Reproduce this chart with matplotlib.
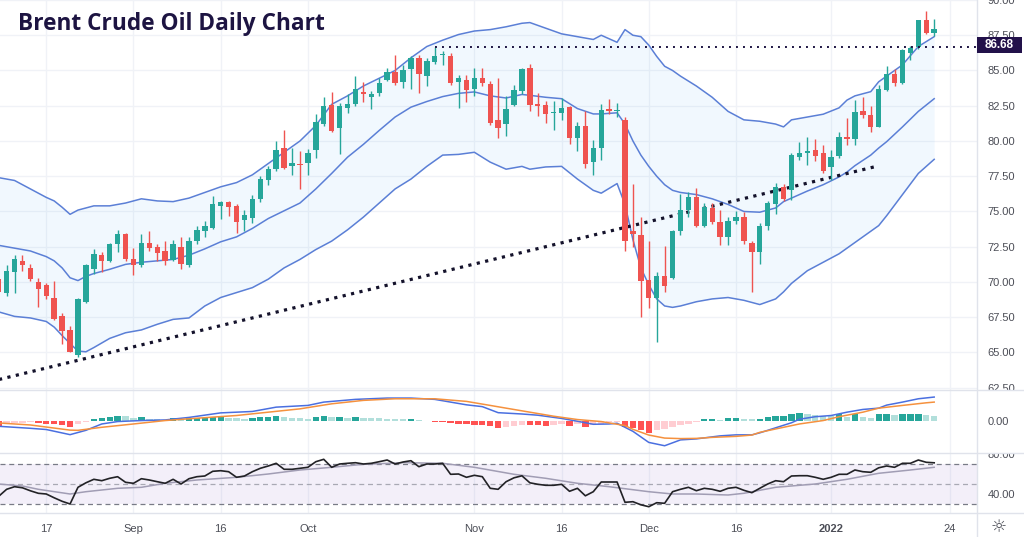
import numpy as np
import matplotlib
matplotlib.use('Agg')
import matplotlib.pyplot as plt
from matplotlib.transforms import Bbox, TransformedBbox
from matplotlib.lines import Line2D
from matplotlib.patches import Rectangle

# ---------------- data ----------------
opens = [70.2, 69.2, 70.7, 71.5, 71.0, 70.0, 69.8, 68.9, 67.6, 66.6,
         64.8, 68.6, 70.94, 71.88, 71.48, 72.7, 73.4, 71.64, 71.17, 72.8,
         72.47, 72.23, 71.57, 72.5, 71.24, 72.9, 73.6, 73.8, 75.4, 75.7,
         75.4, 74.39, 74.53, 75.87, 77.2, 78.0, 79.47, 78.23, 78.4, 78.46,
         79.36, 81.2, 82.58, 80.93, 82.35, 82.6, 83.5, 83.1, 83.4, 84.3,
         84.9, 84.18, 85.1, 85.9, 84.6, 85.6, 86.07, 86.0, 84.2, 84.35,
         83.7, 84.5, 84.04, 81.5, 81.2, 82.54, 83.57, 85.17, 82.63, 82.54,
         81.97, 82.0, 82.4, 80.18, 81.05, 78.51, 79.48, 82.28, 82.16, 81.52,
         73.64, 73.36, 70.15, 68.88, 70.46, 70.3, 73.64, 75.1, 76.0, 74.0,
         75.24, 74.23, 73.22, 74.3, 74.63, 72.74, 72.1, 73.99, 75.52, 76.75,
         76.54, 78.9, 79.13, 79.37, 79.13, 78.19, 78.94, 80.3, 80.12, 82.14,
         81.84, 81.0, 83.65, 84.78, 84.12, 86.24, 86.66, 88.55, 87.65]
highs = [70.5, 71.2, 71.9, 71.9, 71.3, 70.3, 69.9, 70.1, 67.8, 66.9,
         68.9, 71.3, 72.35, 72.1, 72.8, 73.7, 73.45, 72.4, 73.4, 73.64,
         72.7, 72.94, 73.0, 73.2, 73.2, 74.0, 74.35, 76.1, 75.76, 75.76,
         75.5, 75.1, 76.2, 77.5, 78.2, 80.0, 80.75, 79.5, 79.3, 79.4,
         81.92, 83.1, 83.47, 82.7, 83.3, 84.58, 84.2, 83.57, 84.46, 85.17,
         86.1, 85.4, 86.0, 86.1, 85.9, 86.7, 86.4, 86.23, 84.65, 84.7,
         85.17, 85.2, 84.23, 84.47, 83.17, 84.0, 85.2, 85.46, 83.4, 82.87,
         82.82, 83.05, 82.47, 81.36, 82.16, 80.04, 82.63, 83.0, 82.7, 81.69,
         76.98, 74.58, 72.88, 70.7, 72.58, 73.7, 76.27, 76.35, 76.7, 75.6,
         75.6, 75.1, 74.63, 75.05, 74.93, 72.93, 74.2, 75.76, 76.99, 76.94,
         79.13, 79.96, 80.26, 80.12, 79.7, 79.37, 80.66, 81.6, 82.9, 83.1,
         82.47, 83.96, 85.3, 85.13, 86.55, 86.71, 88.6, 89.25, 88.67]
lows = [69.0, 69.0, 69.2, 70.8, 70.1, 68.2, 68.8, 67.3, 65.6, 65.0,
        64.7, 68.5, 70.6, 70.7, 71.4, 72.1, 71.5, 70.47, 71.06, 72.2,
        71.5, 71.17, 71.5, 70.9, 71.05, 72.7, 73.17, 73.76, 74.5, 74.7,
        73.5, 73.6, 74.2, 75.7, 76.9, 77.9, 78.0, 77.6, 76.6, 77.6,
        78.8, 81.05, 80.65, 79.1, 82.0, 82.46, 82.77, 82.3, 83.17, 84.23,
        84.0, 83.76, 83.7, 83.4, 83.9, 85.45, 85.4, 84.0, 82.35, 82.8,
        83.17, 83.9, 81.17, 80.23, 80.35, 82.46, 83.34, 82.16, 81.76, 81.3,
        80.75, 81.52, 79.8, 79.3, 78.1, 77.6, 78.63, 81.88, 81.69, 72.2,
        72.46, 67.52, 68.18, 65.75, 69.28, 70.2, 73.3, 74.6, 73.92, 73.9,
        74.1, 72.6, 72.6, 74.1, 72.7, 69.28, 71.28, 73.7, 74.8, 75.76,
        75.84, 78.66, 78.3, 78.55, 77.72, 77.25, 78.78, 79.72, 79.72, 81.6,
        80.66, 81.0, 83.56, 83.89, 84.07, 85.72, 86.55, 87.6, 87.42]
closes = [69.3, 70.8, 71.6, 71.2, 70.2, 69.5, 69.0, 67.4, 66.5, 65.0,
          68.8, 71.17, 72.0, 71.48, 72.66, 73.4, 71.64, 71.24, 72.8, 72.4,
          72.04, 71.5, 72.7, 71.3, 72.9, 73.7, 74.0, 75.5, 75.64, 75.3,
          74.23, 74.74, 75.87, 77.3, 78.0, 79.36, 78.11, 78.46, 78.3, 79.17,
          81.36, 82.5, 80.74, 82.46, 82.6, 83.7, 83.3, 83.33, 84.1, 84.9,
          84.1, 85.05, 85.9, 84.75, 85.7, 86.0, 86.15, 84.1, 84.5, 83.6,
          84.5, 84.1, 81.29, 80.9, 82.3, 83.64, 85.1, 82.54, 82.5, 81.9,
          82.07, 82.35, 80.2, 81.05, 78.39, 79.48, 82.23, 82.16, 82.23, 72.88,
          73.4, 70.1, 68.88, 70.46, 69.75, 73.64, 75.1, 76.0, 74.0, 75.33,
          74.23, 73.22, 74.35, 74.63, 72.9, 72.1, 73.99, 75.57, 76.75, 75.88,
          79.0, 79.18, 79.32, 78.94, 77.84, 78.9, 80.26, 80.12, 82.07, 81.84,
          81.0, 83.72, 84.73, 84.12, 86.43, 86.62, 88.55, 87.65, 87.96]

# Bollinger bands (read at these candle indices)
bb_idx = [0, 2, 4, 6, 7, 8, 9, 10, 11, 12, 14, 16, 18, 20, 22, 24, 26, 28, 30, 32,
          34, 36, 38, 40, 42, 44, 46, 48, 50, 52, 54, 56, 58, 60, 62, 64, 66, 67, 69, 71,
          73, 75, 76, 78, 79, 80, 81, 82, 83, 84, 85, 86, 88, 90, 92, 94, 96, 98, 99, 100,
          102, 104, 106, 107, 108, 110, 111, 112, 114, 116, 118]
bb_upper = [77.4, 77.2, 76.6, 76.0, 75.75, 75.3, 74.8, 75.1, 75.25, 75.4, 75.4, 75.6, 75.9, 75.75, 75.7, 75.95, 76.35, 76.75, 77.05, 77.6,
            78.4, 79.2, 80.0, 81.1, 82.6, 83.2, 83.9, 84.45, 85.0, 85.9, 86.7, 87.15, 87.55, 87.8, 87.9, 88.1, 88.35, 88.4, 88.0, 87.6,
            87.4, 87.2, 87.5, 87.0, 87.9, 87.5, 87.4, 86.8, 86.0, 85.3, 85.0, 84.6, 83.9, 83.1, 82.1, 81.5, 81.4, 81.2, 81.0, 81.5,
            81.7, 81.9, 82.35, 82.9, 83.2, 83.5, 84.2, 84.6, 85.4, 86.7, 87.4]
bb_mid = [72.6, 72.4, 72.2, 71.8, 71.5, 71.0, 70.3, 70.1, 70.4, 70.6, 70.9, 71.25, 71.4, 71.5, 71.6, 71.9, 72.35, 72.85, 73.2, 73.8,
          74.5, 75.05, 75.6, 76.6, 77.7, 78.85, 79.76, 80.75, 81.7, 82.4, 82.8, 83.15, 83.38, 83.48, 83.2, 83.05, 83.3, 83.24, 83.1, 83.0,
          82.3, 81.92, 81.92, 82.0, 81.2, 80.0, 79.0, 78.2, 77.5, 76.9, 76.5, 76.35, 76.2, 75.9, 75.5, 75.0, 74.95, 75.25, 75.7, 75.95,
          76.45, 76.9, 77.45, 77.8, 78.25, 79.0, 79.5, 79.95, 81.0, 82.1, 83.0]
bb_lower = [67.88, 67.56, 67.45, 67.2, 66.8, 66.2, 65.64, 65.1, 65.05, 65.35, 66.0, 66.4, 66.6, 67.0, 67.35, 67.45, 68.3, 68.9, 69.25, 69.6,
            70.2, 71.0, 71.6, 72.3, 72.9, 73.7, 74.6, 75.6, 76.6, 77.3, 78.2, 79.0, 79.05, 79.2, 78.5, 78.0, 78.2, 78.0, 78.16, 78.2,
            77.3, 76.5, 76.3, 76.98, 75.5, 73.0, 71.0, 69.8, 68.8, 68.3, 68.2, 68.3, 68.6, 68.8, 68.9, 68.7, 68.4, 68.8, 69.3, 69.9,
            70.8, 71.4, 72.0, 72.4, 72.8, 73.6, 74.0, 74.7, 76.2, 77.7, 78.7]

trend_x = [0.0, 110.7]
trend_y = [63.08, 78.2]
level = 86.68
level_start = 55

# MACD histogram (one per candle)
macd_hist = [-0.5, -0.25, -0.2, -0.15, -0.1, -0.22, -0.25, -0.32, -0.38, -0.55,
             -0.3, -0.03, 0.22, 0.32, 0.4, 0.55, 0.48, 0.33, 0.4, 0.25,
             0.18, 0.12, 0.28, 0.2, 0.28, 0.32, 0.35, 0.38, 0.4, 0.33,
             0.3, 0.27, 0.32, 0.38, 0.43, 0.5, 0.42, 0.37, 0.32, 0.27,
             0.4, 0.5, 0.38, 0.42, 0.33, 0.4, 0.32, 0.3, 0.28, 0.26,
             0.22, 0.18, 0.2, 0.08, 0.04, -0.03, -0.08, -0.15, -0.25, -0.3,
             -0.33, -0.34, -0.5, -0.63, -0.55, -0.5, -0.33, -0.4, -0.42, -0.47,
             -0.33, -0.25, -0.47, -0.3, -0.53, -0.35, -0.25, -0.1, -0.05, -0.57,
             -0.67, -0.9, -1.13, -0.9, -0.73, -0.57, -0.4, -0.23, -0.08, 0.2,
             0.22, 0.1, 0.33, 0.35, 0.27, 0.2, 0.27, 0.43, 0.5, 0.52,
             0.7, 0.77, 0.72, 0.6, 0.53, 0.5, 0.67, 0.43, 0.67, 0.43,
             0.37, 0.67, 0.68, 0.6, 0.67, 0.68, 0.69, 0.6, 0.55]
macd_idx = [0, 4, 6, 9, 11, 13, 15, 18, 21, 24, 28, 32, 35, 39, 41, 45, 49, 52, 55, 57,
            59, 61, 63, 66, 68, 71, 73, 75, 77, 78, 80, 82, 84, 86, 88, 91, 93, 95, 96, 98,
            100, 101, 103, 105, 107, 109, 111, 112, 114, 116, 118]
macd_line = [-0.5, -0.7, -0.82, -1.33, -0.9, -0.27, -0.03, 0.07, 0.13, 0.38, 0.83, 0.97, 1.4, 1.57, 1.9, 2.17, 2.3, 2.3, 2.17, 1.9,
             1.63, 1.45, 0.85, 0.72, 0.6, 0.28, 0.0, -0.3, -0.27, -0.2, -1.0, -2.1, -2.43, -1.85, -1.75, -1.45, -1.35, -1.35, -1.15, -0.65,
             -0.15, 0.2, 0.45, 0.57, 0.9, 1.17, 1.3, 1.6, 1.9, 2.23, 2.4]
sig_idx = [0, 4, 9, 10, 13, 17, 21, 25, 30, 34, 38, 42, 46, 50, 55, 59, 62, 64, 67, 70,
           73, 76, 79, 80, 82, 84, 86, 88, 90, 93, 95, 96, 99, 101, 104, 106, 109, 111, 114, 117, 118]
sig_line = [-0.17, -0.37, -0.88, -0.9, -0.6, -0.27, 0.07, 0.3, 0.57, 0.9, 1.23, 1.73, 2.07, 2.23, 2.23, 1.97, 1.57, 1.3, 0.9, 0.5,
            0.17, -0.03, -0.43, -0.8, -1.37, -1.67, -1.72, -1.7, -1.6, -1.5, -1.37, -1.1, -0.6, -0.27, 0.07, 0.45, 0.9, 1.3, 1.57, 1.83, 1.9]

# RSI (one per candle) and its moving average
rsi = [38, 45, 47.6, 46.5, 43.5, 41, 40.3, 36.5, 33, 30.3,
       47, 51.5, 55, 53.6, 56, 57.6, 52, 51, 55.6, 54.3,
       52.6, 51, 55, 50.3, 55.6, 57.6, 58.3, 63, 63.6, 62.6,
       57, 58.3, 62.6, 66, 68.3, 71, 65, 65, 66, 67,
       72.6, 75, 67, 70.3, 71, 71.6, 70.3, 71, 72.6, 74.3,
       70.3, 72.3, 73.6, 67.6, 70.3, 70.3, 71, 60, 60.3, 57,
       59, 57.6, 46, 45, 52.6, 56.5, 58.5, 51.5, 50, 49,
       49, 50, 43, 46, 38.5, 42.6, 52.3, 52.3, 52.3, 32,
       32.6, 29.5, 27.6, 31.6, 31, 42.6, 45, 47, 43.6, 46,
       45, 43, 46, 47, 44, 41.6, 46, 50.3, 53.6, 52.6,
       58.3, 58.6, 58.6, 57, 55, 57, 60, 60, 64.3, 62.6,
       62, 66.5, 68.3, 67, 71, 71, 74.3, 72, 71.5]
rsi_ma_idx = [0, 3, 5, 9, 11, 15, 18, 21, 25, 30, 34, 38, 42, 46, 51, 56, 60, 65, 69, 73,
              77, 82, 85, 88, 92, 94, 98, 103, 107, 111, 115, 118]
rsi_ma = [50.3, 48.3, 45, 40.3, 42.6, 46, 47, 51, 54.3, 57, 60.3, 64.3, 67, 70, 71.6, 71, 67, 60, 56, 51,
          47.6, 42.6, 40.3, 40.3, 39.3, 41, 47, 50.3, 55, 61, 64.3, 67]

tick_idx = [6, 17, 28, 39, 60, 71, 82, 93, 105, 120]
tick_lab = ['17', 'Sep', '16', 'Oct', 'Nov', '16', 'Dec', '16', '2022', '24']
price_ticks = [62.5, 65.0, 67.5, 70.0, 72.5, 75.0, 77.5, 80.0, 82.5, 85.0, 87.5, 90.0]

# ---------------- style ----------------
GREEN = '#26a69a'
RED = '#ef5350'
BB = '#5b7fd6'
GRID = '#f0f2f7'
SEP = '#e0e3eb'
TXT = '#4c4e57'
FONT = 'Liberation Sans'

W, H = 1024, 537
def fx(px):
    return px / W
def fy(py):
    return 1 - py / H

fig = plt.figure(figsize=(10.24, 5.37), dpi=100)
fig.patch.set_facecolor('white')
RP = 977
ax = fig.add_axes([0, fy(390), fx(RP), fy(0) - fy(390)])
axm = fig.add_axes([0, fy(452.5), fx(RP), fy(390) - fy(452.5)])
axr = fig.add_axes([0, fy(513), fx(RP), fy(453) - fy(513)])

XL = (0.164, 123.4)
for a in (ax, axm, axr):
    a.set_xlim(*XL)
    for s in a.spines.values():
        s.set_visible(False)
    a.set_xticks(tick_idx)
    a.grid(axis='x', color=GRID, lw=1.0, zorder=0)
    a.set_axisbelow(True)
    a.yaxis.tick_right()
    a.tick_params(axis='both', length=0, labelsize=8, labelcolor=TXT, pad=7.5)
    for t in a.get_yticklabels():
        t.set_fontfamily(FONT)

# ---------------- main panel ----------------
o = np.array(opens); h = np.array(highs); l = np.array(lows); c = np.array(closes)
x = np.arange(len(o))
col = np.where(c >= o, GREEN, RED)
ax.set_ylim(62.34, 89.88)
ax.set_yticks(price_ticks)
ax.set_yticklabels(['%.2f' % v for v in price_ticks], fontfamily=FONT)
ax.grid(axis='y', color=GRID, lw=1.0, zorder=0)
ax.set_xticklabels([])

ax.fill_between(bb_idx, bb_lower, bb_upper, color='#2196f3', alpha=0.06, lw=0, zorder=1)
for band in (bb_upper, bb_mid, bb_lower):
    ax.plot(bb_idx, band, color=BB, lw=1.1, zorder=2)

ax.plot(trend_x, trend_y, color='#14122b', lw=2.3, ls=(0, (1, 1.7)), zorder=2.5)
ax.plot([level_start, XL[1]], [level, level], color='#1d1442', lw=1.4, ls=(0, (1, 2.6)), zorder=6)

ax.vlines(x, l, h, colors=col, lw=1.0, zorder=3)
ax.bar(x, np.maximum(np.abs(c - o), 0.07), bottom=np.minimum(o, c), width=0.68,
       color=col, lw=0, zorder=4)

# ---------------- MACD panel ----------------
hist = np.array(macd_hist)
hcol = []
for i, v in enumerate(hist):
    prev = hist[i - 1] if i > 0 else v + (0.01 if v < 0 else -0.01)
    if v >= 0:
        hcol.append('#26a69a' if v >= prev else '#b2dfdb')
    else:
        hcol.append('#ff5252' if v < prev else '#ffcdd2')
axm.set_ylim(-3.1, 3.1)
axm.bar(x, hist, width=0.8, color=hcol, lw=0, zorder=2)
axm.plot(macd_idx, macd_line, color='#4a6fe0', lw=1.1, zorder=3)
axm.plot(sig_idx, sig_line, color='#f5913e', lw=1.1, zorder=3)
axm.set_yticks([0])
axm.set_yticklabels(['0.00'], fontfamily=FONT)
axm.set_xticklabels([])

# ---------------- RSI panel ----------------
axr.set_ylim(21.3, 81.3)
axr.axhspan(30, 70, color='#7e57c2', alpha=0.09, lw=0, zorder=1)
for lv, al in ((70, 1.0), (50, 0.6), (30, 1.0)):
    axr.axhline(lv, color='#787b86', lw=0.9, ls=(0, (4, 3)), alpha=al, zorder=2)
axr.plot(rsi_ma_idx, rsi_ma, color='#a19db4', lw=1.1, zorder=3)
axr.plot(x, rsi, color='#222226', lw=1.2, zorder=4)
axr.set_yticks([40, 80])
axr.set_yticklabels(['40.00', '80.00'], fontfamily=FONT)
axr.set_xticklabels(tick_lab, fontfamily=FONT)
axr.tick_params(axis='x', pad=8)
for t in axr.get_xticklabels():
    if t.get_text() == '2022':
        t.set_fontweight('bold')

# clip partially hidden right-axis labels at the panel separators
clip_main = TransformedBbox(Bbox([[0, fy(390)], [1, 1]]), fig.transFigure)
for tk in ax.yaxis.get_major_ticks():
    tk.label2.set_clip_box(clip_main)
    tk.label2.set_clip_on(True)
clip_rsi = TransformedBbox(Bbox([[0, 0], [1, fy(453)]]), fig.transFigure)
for tk in axr.yaxis.get_major_ticks():
    tk.label2.set_clip_box(clip_rsi)
    tk.label2.set_clip_on(True)

# separators
for py in (390, 452.5, 513):
    fig.add_artist(Line2D([0, 1], [fy(py), fy(py)], transform=fig.transFigure, color=SEP, lw=1.0))
fig.add_artist(Line2D([fx(RP), fx(RP)], [0, 1], transform=fig.transFigure, color=SEP, lw=1.0))

# price label box
fig.add_artist(Rectangle((fx(RP), fy(53.3)), fx(1022) - fx(RP), fy(37.3) - fy(53.3),
                         transform=fig.transFigure, facecolor='#22114a', edgecolor='none', zorder=10))
fig.text(fx(999.5), fy(45.3), '%.2f' % level, ha='center', va='center', color='white',
         fontsize=8.5, fontweight='bold', fontfamily=FONT, zorder=11)

# title
fig.text(fx(18), fy(30), 'Brent Crude Oil Daily Chart', fontsize=16.3, fontweight='bold',
         fontfamily='Open Sans', color='#1d1442', va='baseline', ha='left', zorder=12)

# settings icon
fig.text(fx(999), fy(527), '\u263c', ha='center', va='center', fontsize=13, color=TXT,
         fontfamily='DejaVu Sans')

fig.savefig('out.png', dpi=100, facecolor='white')
